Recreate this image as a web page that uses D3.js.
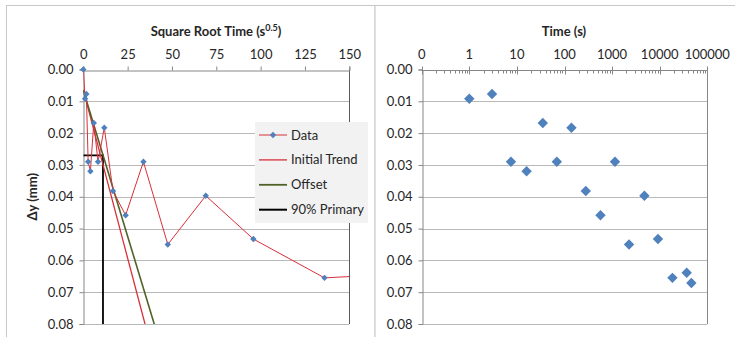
<!DOCTYPE html>
<html>
<head>
<meta charset="utf-8">
<script src="https://cdn.jsdelivr.net/npm/d3@7/dist/d3.min.js"></script>
<style>
  html, body { margin: 0; padding: 0; background: #fff; }
  svg { display: block; font-family: Lato, "Open Sans", sans-serif; }
</style>
</head>
<body>
<svg id="chart" width="735" height="337"></svg>
<script>
// Settlement readings: elapsed time (s) and vertical displacement Δy (mm)
const timeSec = [0, 1, 3, 7.5, 16, 35, 69, 140, 280, 570, 1150, 2270, 4770, 9200, 18500, 36900, 46300];
const deltaY  = [0, 0.0092, 0.0077, 0.0290, 0.0320, 0.0168, 0.0290, 0.0183, 0.0382, 0.0458, 0.0290,
                 0.0550, 0.0397, 0.0533, 0.0655, 0.0639, 0.0671];

// Square-root-of-time construction lines (x in s^0.5, y in mm)
const initialTrend = [[0, 0.0065], [34.8, 0.08]];
const offsetLine   = [[0, 0.0065], [40.0, 0.08]];
const primary90    = [[0, 0.0270], [11.1, 0.0270], [11.1, 0.08]];

// Axis ticks and labels
const yTicks = [0, 0.01, 0.02, 0.03, 0.04, 0.05, 0.06, 0.07, 0.08];
const sqrtTicks = [0, 25, 50, 75, 100, 125, 150];
const logTicks = [0.1, 1, 10, 100, 1000, 10000, 100000];
const logTickLabels = ["0", "1", "10", "100", "1000", "10000", "100000"];
const legendItems = ["Data", "Initial Trend", "Offset", "90% Primary"];

const RED = "#d8303a", BLUE = "#4f81bd", GREEN = "#4f6228", BLACK = "#000";
const TXT = "#262626";

const svg = d3.select("#chart");

// Chart panels
svg.append("rect").attr("x", 6.5).attr("y", 5.5).attr("width", 368.5).attr("height", 340)
  .attr("fill", "#fff").attr("stroke", "#c8c8c8");
svg.append("rect").attr("x", 375).attr("y", 5.5).attr("width", 370).attr("height", 340)
  .attr("fill", "#fff").attr("stroke", "#c8c8c8");

const points = timeSec.map((t, i) => ({ t, s: Math.sqrt(t), d: deltaY[i] }));

const yL = d3.scaleLinear().domain([0, 0.08]).range([69.5, 324]);
const xL = d3.scaleLinear().domain([0, 150]).range([83.3, 349.3]);
const yR = yL.copy();
const xR = d3.scaleLog().domain([0.1, 100000]).range([421.7, 707.3]);

function diamond(r) {
  return `M0,${-r}L${r},0L0,${r}L${-r},0Z`;
}

function yAxisAndGrid(g, x0, x1, axisColor, rightColor) {
  // horizontal gridlines
  g.append("g").selectAll("line").data(yTicks.slice(1)).join("line")
    .attr("x1", x0).attr("x2", x1)
    .attr("y1", d => Math.round(yL(d)) + 0.5).attr("y2", d => Math.round(yL(d)) + 0.5)
    .attr("stroke", "#b9b9b9").attr("stroke-width", 1);
  // left axis with outward ticks
  const ax = g.append("g").attr("transform", `translate(${Math.round(x0) + 0.5},0)`)
    .call(d3.axisLeft(yL).tickValues(yTicks).tickFormat(d3.format(".2f")).tickSize(4).tickPadding(6));
  ax.select(".domain").attr("stroke", axisColor);
  ax.selectAll(".tick line").attr("stroke", axisColor);
  ax.selectAll("text").attr("font-size", 13).attr("fill", TXT).attr("font-family", "Lato");
  // right border
  g.append("line").attr("x1", Math.round(x1) + 0.5).attr("x2", Math.round(x1) + 0.5)
    .attr("y1", yL(0)).attr("y2", yL(0.08)).attr("stroke", rightColor);
}

// ---------- Left chart: square root of time ----------
const left = svg.append("g");
yAxisAndGrid(left, xL(0), xL(150), "#868686", "#595959");

const axTop = left.append("g").attr("transform", `translate(0,${Math.round(yL(0)) + 0.5})`)
  .call(d3.axisTop(xL).tickValues(sqrtTicks).tickFormat(d3.format("d")).tickSize(4).tickPadding(8));
axTop.select(".domain").attr("stroke", "#868686");
axTop.selectAll(".tick line").attr("stroke", "#868686");
axTop.selectAll("text").attr("font-size", 13).attr("fill", TXT).attr("font-family", "Lato");

const titleL = left.append("text").attr("x", 216).attr("y", 36).attr("text-anchor", "middle")
  .attr("font-size", 13).attr("font-weight", "bold").attr("fill", TXT);
titleL.append("tspan").text("Square Root Time (s");
titleL.append("tspan").attr("dy", -5).attr("font-size", 9).text("0.5");
titleL.append("tspan").attr("dy", 5).text(")");

left.append("text").attr("transform", `translate(37,${yL(0.04)}) rotate(-90)`)
  .attr("text-anchor", "middle").attr("font-size", 13).attr("font-weight", "bold").attr("fill", TXT)
  .text("Δy (mm)");

svg.append("clipPath").attr("id", "clipL").append("rect")
  .attr("x", xL(0)).attr("y", yL(0)).attr("width", xL(150) - xL(0)).attr("height", yL(0.08) - yL(0));

const plotL = left.append("g").attr("clip-path", "url(#clipL)");
const lineXY = d3.line().x(d => xL(d[0])).y(d => yL(d[1]));

plotL.append("path").datum(primary90).attr("d", lineXY)
  .attr("fill", "none").attr("stroke", BLACK).attr("stroke-width", 1.8);
plotL.append("path").datum(initialTrend).attr("d", lineXY)
  .attr("fill", "none").attr("stroke", RED).attr("stroke-width", 1.3);
plotL.append("path").datum(offsetLine).attr("d", lineXY)
  .attr("fill", "none").attr("stroke", GREEN).attr("stroke-width", 1.6);
plotL.append("path").datum(points)
  .attr("d", d3.line().x(d => xL(d.s)).y(d => yL(d.d)))
  .attr("fill", "none").attr("stroke", RED).attr("stroke-width", 1);

left.append("g").selectAll("path").data(points.filter(p => p.s <= 150)).join("path")
  .attr("transform", d => `translate(${xL(d.s)},${yL(d.d)})`)
  .attr("d", diamond(3.2)).attr("fill", BLUE);

// Legend
const lg = left.append("g");
lg.append("rect").attr("x", 255).attr("y", 122).attr("width", 113).attr("height", 101).attr("fill", "#f2f2f2");
const legStyles = [
  { color: RED, w: 1, marker: true },
  { color: RED, w: 1.3, marker: false },
  { color: GREEN, w: 1.8, marker: false },
  { color: BLACK, w: 2, marker: false }
];
legendItems.forEach((name, i) => {
  const y = 135 + i * 24.9;
  const st = legStyles[i];
  lg.append("line").attr("x1", 259).attr("x2", 287).attr("y1", y).attr("y2", y)
    .attr("stroke", st.color).attr("stroke-width", st.w);
  if (st.marker) lg.append("path").attr("transform", `translate(273,${y})`).attr("d", diamond(3.2)).attr("fill", BLUE);
  lg.append("text").attr("x", 291).attr("y", y).attr("dy", "0.35em")
    .attr("font-size", 13).attr("fill", TXT).text(name);
});

// ---------- Right chart: log time ----------
const right = svg.append("g");
yAxisAndGrid(right, xR(0.1), xR(100000), "#868686", "#868686");

const axR = right.append("g").attr("transform", `translate(0,${Math.round(yR(0)) + 0.5})`);
axR.append("line").attr("x1", xR(0.1)).attr("x2", xR(100000)).attr("stroke", "#868686");
// minor ticks (inside)
const minor = [];
logTicks.slice(0, -1).forEach(b => { for (let k = 2; k <= 9; k++) minor.push(b * k); });
axR.selectAll("line.minor").data(minor).join("line").attr("class", "minor")
  .attr("x1", d => Math.round(xR(d)) + 0.5).attr("x2", d => Math.round(xR(d)) + 0.5)
  .attr("y1", 0).attr("y2", 3).attr("stroke", "#868686");
// major ticks (cross)
axR.selectAll("line.major").data(logTicks).join("line").attr("class", "major")
  .attr("x1", d => Math.round(xR(d)) + 0.5).attr("x2", d => Math.round(xR(d)) + 0.5)
  .attr("y1", -4).attr("y2", 4).attr("stroke", "#868686");
axR.selectAll("text").data(logTicks).join("text")
  .attr("x", d => xR(d)).attr("y", -12).attr("text-anchor", "middle")
  .attr("font-size", 13).attr("fill", TXT).text((d, i) => logTickLabels[i]);

right.append("text").attr("x", 564).attr("y", 36).attr("text-anchor", "middle")
  .attr("font-size", 13).attr("font-weight", "bold").attr("fill", TXT).text("Time (s)");

right.append("g").selectAll("path").data(points.filter(p => p.t > 0)).join("path")
  .attr("transform", d => `translate(${xR(d.t)},${yR(d.d)})`)
  .attr("d", diamond(5.2)).attr("fill", BLUE);
</script>
</body>
</html>
